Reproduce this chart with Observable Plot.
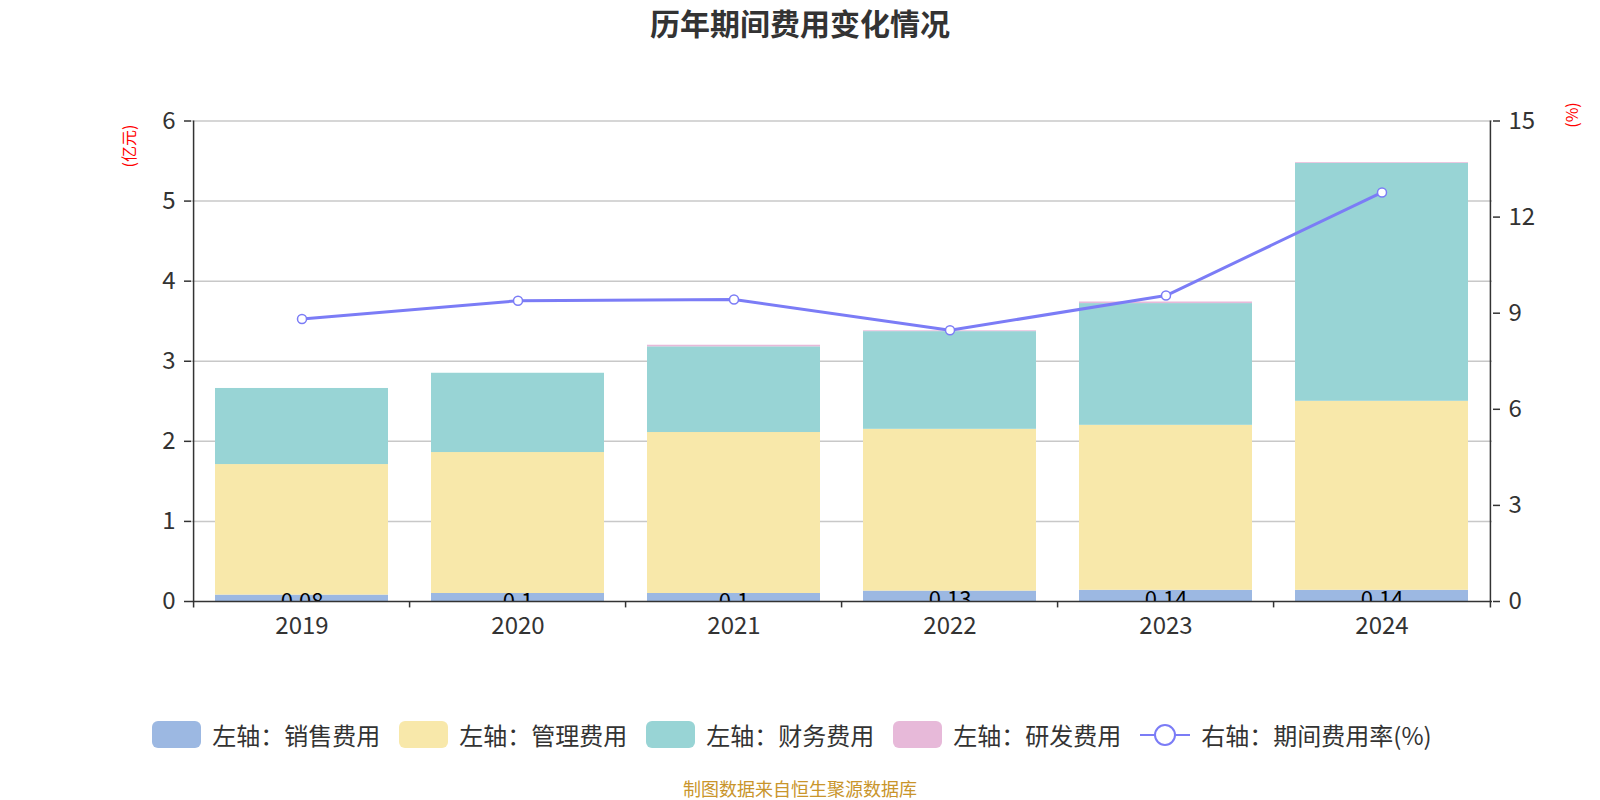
<!DOCTYPE html>
<html><head><meta charset="utf-8">
<script src="https://cdn.jsdelivr.net/npm/d3@7"></script>
<script src="https://cdn.jsdelivr.net/npm/@observablehq/plot@0.6"></script>
<style>
body{margin:0;background:#fff;font-family:"Noto Sans CJK SC","Noto Sans",sans-serif;}
#wrap{position:relative;width:1600px;height:800px;overflow:hidden;background:#fff;}
#title{position:absolute;top:0;left:0;width:1600px;text-align:center;font-size:30px;font-weight:bold;color:#333;line-height:44px;}
#chart{position:absolute;top:0;left:0;}
.unit{position:absolute;color:#ff0000;font-size:16px;white-space:nowrap;transform:translate(-50%,-50%) rotate(-90deg);line-height:1;}
#legend{position:absolute;top:717px;left:-8px;width:1600px;display:flex;justify-content:center;align-items:center;font-size:24px;color:#333;}
.item{display:flex;align-items:center;margin:0 9.5px;}
.sw{width:49px;height:27px;border-radius:6px;margin-right:11px;}
#caption{position:absolute;top:778px;left:0;width:1600px;text-align:center;font-size:18px;color:#c9952b;line-height:20px;}
</style></head>
<body>
<div id="wrap">
<div id="title">历年期间费用变化情况</div>
<div id="chart"></div>
<div class="unit" style="left:128px;top:146px;">(亿元)</div>
<div class="unit" style="left:1571px;top:115px;">(%)</div>
<div id="legend"></div>
<div id="caption">制图数据来自恒生聚源数据库</div>
</div>
<script>
const years = ["2019","2020","2021","2022","2023","2024"];
const sales = [0.08, 0.1, 0.1, 0.13, 0.14, 0.14];
const admin = [1.63, 1.76, 2.01, 2.02, 2.06, 2.36];
const finance = [0.95, 0.99, 1.07, 1.22, 1.52, 2.97];
const rnd = [0, 0, 0.02, 0.01, 0.02, 0.01];
const rate = [8.82, 9.39, 9.43, 8.47, 9.55, 12.77];
const seriesNames = ["左轴：销售费用","左轴：管理费用","左轴：财务费用","左轴：研发费用"];
const lineName = "右轴：期间费用率(%)";
const colors = ["#9cb8e2","#f8e8aa","#98d4d5","#e7b9d9"];
const lineColor = "#7b7cf6";
const leftTicks = [0,1,2,3,4,5,6];
const rightTicks = [0,3,6,9,12,15];

const seriesVals = [sales, admin, finance, rnd];
const long = [];
years.forEach((y, i) => seriesVals.forEach((arr, k) => long.push({year: y, series: seriesNames[k], value: arr[i], k})));
const salesData = years.map((y, i) => ({year: y, value: sales[i]}));
const rateData = years.map((y, i) => ({year: y, rate: rate[i]}));
const ratio = 6 / 15;

const W = 1600, H = 660, mL = 191, mR = 108, mT = 120.5, mB = 59;
const step = (W - mL - mR) / years.length;
const axisColor = "#333";

const plot = Plot.plot({
  width: W, height: H,
  marginLeft: mL, marginRight: mR, marginTop: mT, marginBottom: mB,
  style: {fontFamily: '"Noto Sans CJK SC","Noto Sans",sans-serif', background: "transparent"},
  x: {domain: years, paddingInner: 0.2, paddingOuter: 0.1},
  y: {domain: [0, 6]},
  color: {domain: seriesNames, range: colors},
  marks: [
    Plot.ruleY(leftTicks.slice(1), {stroke: "#c8c8c8", strokeWidth: 1.5}),
    Plot.barY(long, {x: "year", y: "value", fill: "series", order: "k"}),
    Plot.text(salesData, {x: "year", y: d => d.value / 2, text: d => String(d.value), fontSize: 22, fill: "#000", dy: 4, clip: true}),
    Plot.line(rateData, {x: "year", y: d => d.rate * ratio, stroke: lineColor, strokeWidth: 3}),
    Plot.dot(rateData, {x: "year", y: d => d.rate * ratio, r: 4.5, fill: "#fff", stroke: lineColor, strokeWidth: 1.5}),
    Plot.ruleY([0], {stroke: axisColor, strokeWidth: 1.5}),
    Plot.ruleX([years[0]], {dx: -step / 2, y1: -0.08, y2: 6, stroke: axisColor, strokeWidth: 1.5}),
    Plot.ruleX([years[years.length - 1]], {dx: step / 2, y1: -0.08, y2: 6, stroke: axisColor, strokeWidth: 1.5}),
    Plot.ruleX(years.slice(1), {dx: -step / 2, y1: -0.08, y2: 0, stroke: axisColor, strokeWidth: 1.5}),
    Plot.axisY(leftTicks, {anchor: "left", tickSize: 7, tickPadding: 9, fontSize: 24, stroke: axisColor, strokeWidth: 1.5, color: "#333", label: null, tickFormat: d => String(d)}),
    Plot.axisY(rightTicks.map(t => t * ratio), {anchor: "right", tickSize: 7, tickPadding: 9, fontSize: 24, stroke: axisColor, strokeWidth: 1.5, color: "#333", label: null, tickFormat: d => String(Math.round(d / ratio))}),
    Plot.axisX({anchor: "bottom", tickSize: 0, tickPadding: 15, fontSize: 24, color: "#333", label: null})
  ]
});
document.getElementById("chart").appendChild(plot);

const legend = document.getElementById("legend");
seriesNames.forEach((n, k) => {
  const it = document.createElement("div"); it.className = "item";
  it.innerHTML = `<div class="sw" style="background:${colors[k]}"></div><span>${n}</span>`;
  legend.appendChild(it);
});
const li = document.createElement("div"); li.className = "item";
li.innerHTML = `<svg width="50" height="28" style="margin-right:11px"><line x1="0" y1="14" x2="50" y2="14" stroke="${lineColor}" stroke-width="2"/><circle cx="25" cy="14" r="10" fill="#fff" stroke="${lineColor}" stroke-width="2"/></svg><span>${lineName}</span>`;
legend.appendChild(li);
</script>
</body></html>
